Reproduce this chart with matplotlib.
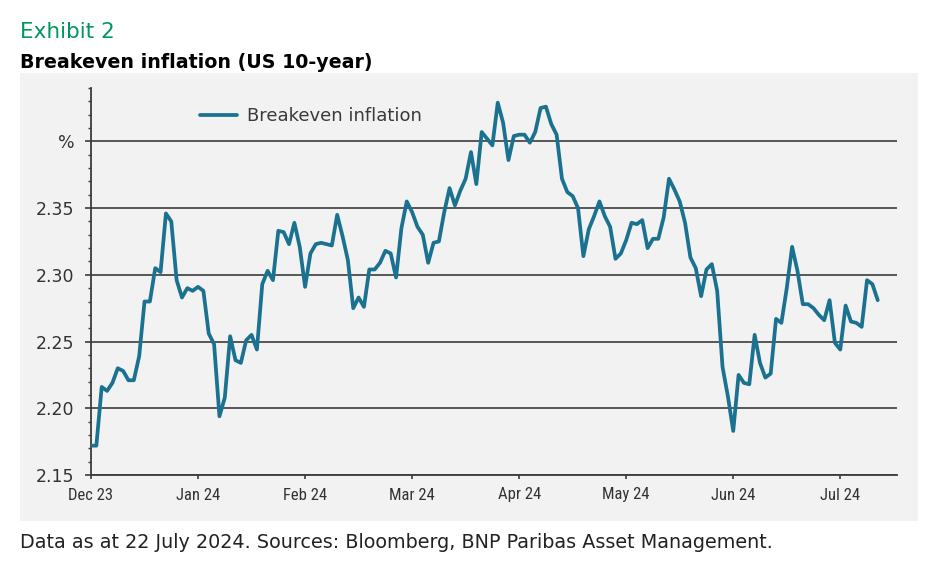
import matplotlib
matplotlib.use('Agg')
import matplotlib.pyplot as plt
from matplotlib import font_manager
from matplotlib.patches import Rectangle
from matplotlib.ticker import MultipleLocator

# 10-year breakeven, one value per observation (about 20 per month)
values = [
    2.172, 2.172, 2.216, 2.213, 2.219, 2.230, 2.228, 2.221, 2.221, 2.239,
    2.280, 2.280, 2.305, 2.302, 2.346, 2.340, 2.296, 2.283, 2.290, 2.288,
    2.291, 2.288, 2.256, 2.248, 2.194, 2.208, 2.254, 2.236, 2.234, 2.251,
    2.255, 2.244, 2.293, 2.303, 2.296, 2.333, 2.332,
    2.323, 2.339, 2.321, 2.291, 2.316, 2.323, 2.324, 2.323, 2.322, 2.345,
    2.329, 2.311, 2.275, 2.283, 2.276, 2.304, 2.304, 2.309, 2.318, 2.316,
    2.298, 2.335, 2.355, 2.347, 2.336, 2.330, 2.309, 2.324, 2.325, 2.347,
    2.365, 2.352, 2.363, 2.372, 2.392, 2.368,
    2.407, 2.402, 2.397, 2.429, 2.414, 2.386, 2.404, 2.405, 2.405, 2.399,
    2.407, 2.425, 2.426, 2.413, 2.405, 2.372, 2.362, 2.359, 2.350, 2.314,
    2.334, 2.344, 2.355, 2.344, 2.336, 2.312, 2.316, 2.326, 2.339, 2.338,
    2.341, 2.320, 2.327, 2.327, 2.343, 2.372,
    2.364, 2.355, 2.339, 2.313, 2.305, 2.284, 2.304, 2.308, 2.288, 2.231,
    2.209, 2.183, 2.225, 2.219, 2.218, 2.255, 2.234, 2.223, 2.226, 2.267,
    2.264, 2.290, 2.321, 2.303, 2.278, 2.278, 2.275, 2.270, 2.266, 2.281,
    2.249, 2.244, 2.277, 2.265, 2.264, 2.261, 2.296, 2.293, 2.281,
]

month_labels = ['Dec 23', 'Jan 24', 'Feb 24', 'Mar 24', 'Apr 24', 'May 24', 'Jun 24', 'Jul 24']
obs_per_month = 20
y_ticks = [2.15, 2.20, 2.25, 2.30, 2.35, 2.40]
y_labels = ['2.15', '2.20', '2.25', '2.30', '2.35', '%']

LINE_COLOR = '#1b7290'
GRID_COLOR = '#3c3c3c'
TEXT_COLOR = '#333333'


def pick_font(names):
    installed = {f.name for f in font_manager.fontManager.ttflist}
    for n in names:
        if n in installed:
            return n
    return 'DejaVu Sans'


narrow = pick_font(['Liberation Sans Narrow', 'DejaVu Sans Condensed', 'Roboto Condensed', 'DejaVu Sans'])
print('x label font:', narrow)

W, H = 940, 575
fig = plt.figure(figsize=(W / 100, H / 100), dpi=100)
fig.patch.set_facecolor('white')

# grey panel behind the chart
fig.patches.append(Rectangle((20 / W, 1 - 521 / H), (918 - 20) / W, (521 - 73) / H,
                             transform=fig.transFigure, facecolor='#f2f2f2',
                             edgecolor='none', zorder=-10))

ax = fig.add_axes([91 / W, 1 - 475 / H, (897 - 91) / W, (475 - 88) / H])
ax.set_facecolor('none')

x = list(range(len(values)))
line, = ax.plot(x, values, color=LINE_COLOR, lw=2.7, solid_joinstyle='round',
                solid_capstyle='round', label='Breakeven inflation', zorder=3)

ax.set_xlim(0, 150.6)
ax.set_ylim(2.15, 2.44)

ax.set_yticks(y_ticks)
ax.set_yticklabels(y_labels)
ax.yaxis.set_minor_locator(MultipleLocator(0.01))
ax.set_xticks([i * obs_per_month for i in range(len(month_labels))])
ax.set_xticklabels(month_labels, fontfamily=narrow)

ax.grid(axis='y', color=GRID_COLOR, lw=1.2, zorder=1)
for s in ['top', 'right']:
    ax.spines[s].set_visible(False)
for s in ['left', 'bottom']:
    ax.spines[s].set_color(GRID_COLOR)
    ax.spines[s].set_linewidth(1.3)

ax.tick_params(axis='y', which='major', length=4, width=1.2, color=GRID_COLOR,
               labelsize=12.5, labelcolor=TEXT_COLOR, pad=8)
ax.tick_params(axis='y', which='minor', length=2.5, width=1.0, color=GRID_COLOR)
ax.tick_params(axis='x', which='major', length=3, width=1.2, color=GRID_COLOR,
               labelsize=12, labelcolor=TEXT_COLOR, pad=6)

leg = ax.legend(handles=[line], loc='center left', bbox_to_anchor=(0.135, 0.928),
                frameon=False, fontsize=13, handlelength=2.05, handletextpad=0.55,
                borderpad=0, borderaxespad=0)
for t in leg.get_texts():
    t.set_color('#3a3a3a')

fig.text(20 / W, 1 - 38.5 / H, 'Exhibit 2', color='#00965e', fontsize=15.5, va='baseline')
fig.text(20 / W, 1 - 68.5 / H, 'Breakeven inflation (US 10-year)', color='black',
         fontsize=13.7, fontweight='bold', va='baseline')
fig.text(20 / W, 1 - 548 / H,
         'Data as at 22 July 2024. Sources: Bloomberg, BNP Paribas Asset Management.',
         color='#222222', fontsize=13.8, va='baseline')

fig.savefig('out.png', dpi=100, facecolor='white')
